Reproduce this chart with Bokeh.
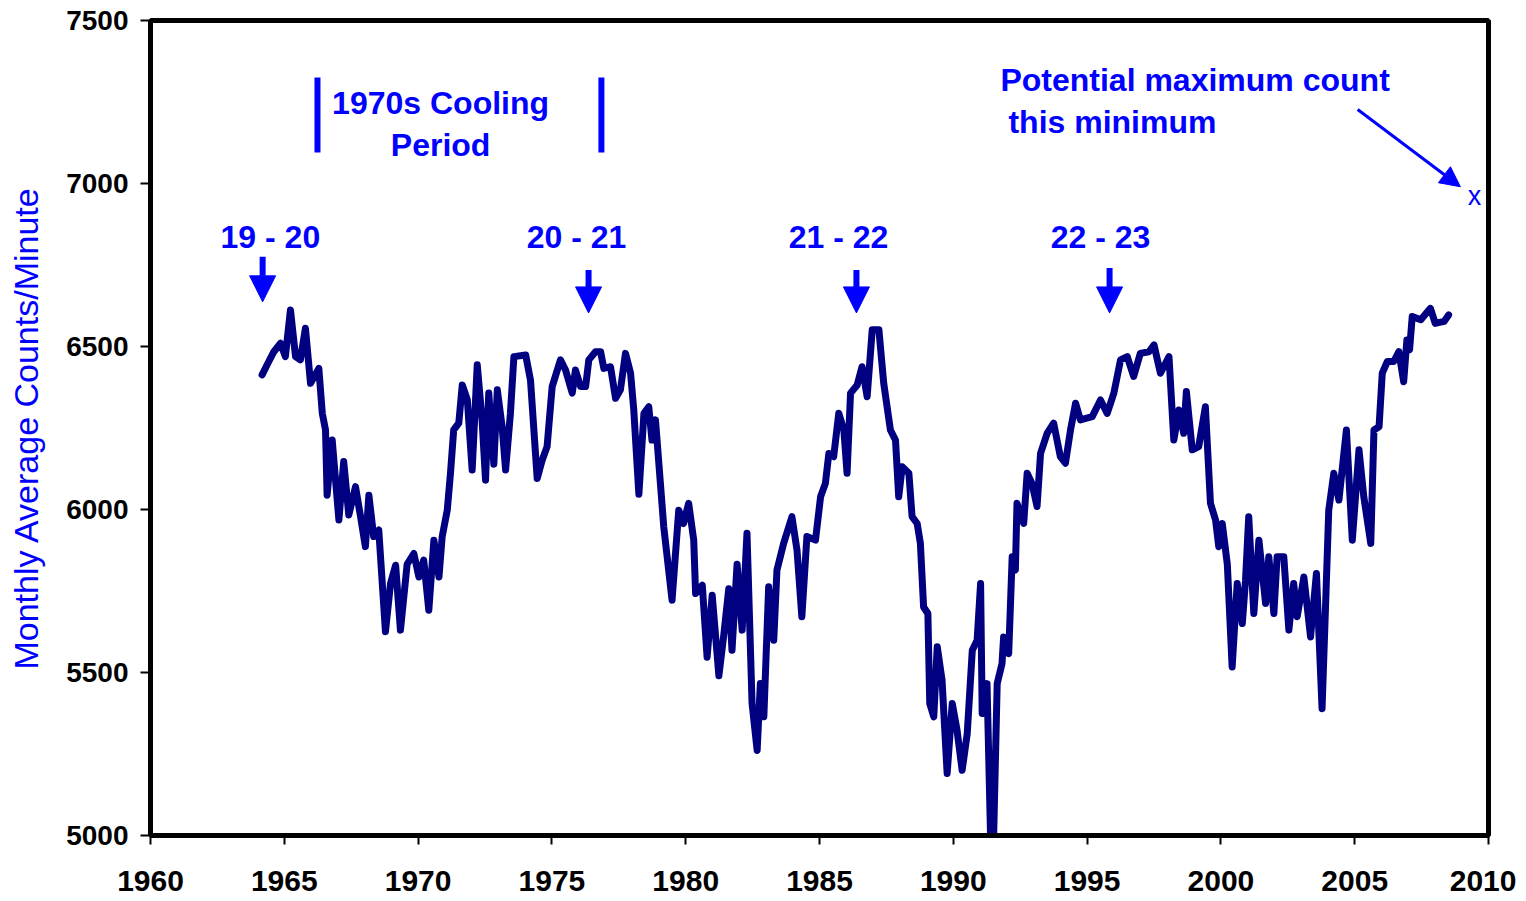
from bokeh.plotting import figure
from bokeh.models import Range1d, Arrow, NormalHead, Label, FixedTicker
from bokeh.core.properties import value
from bokeh.embed import file_html
from bokeh.resources import INLINE

# ---- data ----
years = [
    1964.17, 1964.42, 1964.61, 1964.86, 1965.04, 1965.23, 1965.42, 1965.60, 1965.79, 1965.98,
    1966.29, 1966.42, 1966.54, 1966.60, 1966.79, 1967.04, 1967.22, 1967.41, 1967.66, 1967.85,
    1968.03, 1968.16, 1968.34, 1968.53, 1968.78, 1968.97, 1969.16, 1969.34, 1969.59, 1969.84,
    1970.03, 1970.21, 1970.40, 1970.59, 1970.78, 1970.90, 1971.09, 1971.21, 1971.33, 1971.52,
    1971.65, 1971.84, 1972.02, 1972.21, 1972.39, 1972.52, 1972.64, 1972.83, 1972.96, 1973.14,
    1973.27, 1973.45, 1973.58, 1974.02, 1974.20, 1974.45, 1974.64, 1974.82, 1975.01, 1975.32,
    1975.51, 1975.76, 1975.88, 1976.07, 1976.26, 1976.38, 1976.63, 1976.82, 1976.94, 1977.19,
    1977.38, 1977.56, 1977.75, 1977.94, 1978.06, 1978.25, 1978.44, 1978.62, 1978.74, 1978.87,
    1979.18, 1979.49, 1979.74, 1979.92, 1980.11, 1980.30, 1980.37, 1980.62, 1980.80, 1980.99,
    1981.24, 1981.42, 1981.61, 1981.73, 1981.92, 1982.11, 1982.29, 1982.48, 1982.67, 1982.79,
    1982.92, 1983.10, 1983.29, 1983.41, 1983.66, 1983.97, 1984.16, 1984.34, 1984.53, 1984.85,
    1985.04, 1985.22, 1985.35, 1985.53, 1985.72, 1985.91, 1986.03, 1986.16, 1986.41, 1986.59,
    1986.78, 1986.97, 1987.22, 1987.40, 1987.65, 1987.84, 1987.96, 1988.09, 1988.34, 1988.46,
    1988.65, 1988.77, 1988.89, 1989.05, 1989.12, 1989.27, 1989.40, 1989.58, 1989.77, 1989.96,
    1990.14, 1990.33, 1990.52, 1990.71, 1990.89, 1991.02, 1991.08, 1991.26, 1991.39, 1991.51,
    1991.64, 1991.82, 1991.88, 1992.07, 1992.20, 1992.32, 1992.38, 1992.63, 1992.76, 1992.94,
    1993.13, 1993.26, 1993.51, 1993.75, 1994.00, 1994.19, 1994.38, 1994.57, 1994.75, 1995.19,
    1995.50, 1995.75, 1996.00, 1996.25, 1996.50, 1996.74, 1996.99, 1997.31, 1997.50, 1997.74,
    1998.06, 1998.24, 1998.43, 1998.61, 1998.71, 1998.93, 1999.17, 1999.42, 1999.61, 1999.80,
    1999.92, 2000.05, 2000.24, 2000.42, 2000.61, 2000.80, 2000.92, 2001.04, 2001.23, 2001.42,
    2001.67, 2001.79, 2001.98, 2002.10, 2002.35, 2002.54, 2002.72, 2002.85, 2003.10, 2003.35,
    2003.57, 2003.78, 2003.91, 2004.03, 2004.22, 2004.41, 2004.69, 2004.91, 2005.16, 2005.34,
    2005.60, 2005.72, 2005.91, 2006.03, 2006.22, 2006.46, 2006.65, 2006.83, 2006.95, 2007.05,
    2007.15, 2007.47, 2007.83, 2008.01, 2008.34, 2008.51,
]
counts = [
    6413, 6454, 6484, 6510, 6469, 6612, 6469, 6459, 6556, 6387,
    6433, 6295, 6244, 6044, 6213, 5968, 6147, 5983, 6070, 5978,
    5886, 6044, 5917, 5937, 5625, 5773, 5829, 5630, 5832, 5865,
    5793, 5845, 5691, 5906, 5793, 5917, 5998, 6111, 6244, 6265,
    6382, 6336, 6121, 6444, 6275, 6090, 6357, 6139, 6367, 6254,
    6121, 6295, 6469, 6474, 6397, 6095, 6152, 6193, 6377, 6459,
    6428, 6357, 6428, 6377, 6377, 6459, 6484, 6484, 6433, 6438,
    6341, 6367, 6479, 6418, 6305, 6047, 6295, 6315, 6213, 6275,
    5947, 5722, 5998, 5957, 6019, 5906, 5742, 5768, 5547, 5737,
    5490, 5613, 5757, 5568, 5832, 5630, 5927, 5405, 5261, 5466,
    5364, 5763, 5599, 5814, 5896, 5978, 5875, 5671, 5917, 5906,
    6039, 6080, 6172, 6162, 6295, 6244, 6111, 6357, 6382, 6438,
    6346, 6551, 6551, 6387, 6244, 6213, 6039, 6131, 6111, 5978,
    5957, 5896, 5701, 5681, 5405, 5364, 5579, 5476, 5190, 5405,
    5323, 5200, 5312, 5568, 5599, 5773, 5374, 5466, 5005, 5005,
    5466, 5527, 5609, 5558, 5855, 5814, 6019, 5957, 6111, 6080,
    6009, 6172, 6234, 6265, 6162, 6142, 6244, 6326, 6275, 6285,
    6336, 6295, 6357, 6459, 6469, 6408, 6479, 6484, 6505, 6418,
    6469, 6213, 6305, 6234, 6362, 6183, 6193, 6315, 6019, 5968,
    5886, 5957, 5832, 5517, 5773, 5650, 5783, 5978, 5681, 5906,
    5712, 5855, 5681, 5855, 5855, 5630, 5773, 5671, 5793, 5609,
    5804, 5389, 5701, 5998, 6111, 6029, 6244, 5906, 6183, 6039,
    5896, 6244, 6254, 6418, 6454, 6454, 6484, 6392, 6520, 6490,
    6592, 6582, 6617, 6571, 6577, 6597,
]

x_ticks = [1960, 1965, 1970, 1975, 1980, 1985, 1990, 1995, 2000, 2005, 2010]
y_ticks = [5000, 5500, 6000, 6500, 7000, 7500]

# solar cycle transition markers: label, label x, arrow x
cycle_labels = ["19 - 20", "20 - 21", "21 - 22", "22 - 23"]
cycle_label_x = [1964.48, 1975.92, 1985.71, 1995.50]
cycle_arrow_x = [1964.19, 1976.37, 1986.38, 1995.84]
cycle_arrow_top = [6775, 6735, 6735, 6741]
cycle_arrow_tip = [6637, 6603, 6603, 6603]

cooling_bar_x = [1966.24, 1976.85]

# potential maximum
pot_x = 2009.48
pot_y = 6963

BLUE = "#0000FF"
NAVY = "#000080"
FONT = "Liberation Sans"

p = figure(width=1516, height=900, output_backend="svg", toolbar_location=None,
           x_range=Range1d(1960, 2010), y_range=Range1d(5000, 7500),
           min_border_left=150, min_border_right=28, min_border_top=20, min_border_bottom=65)

p.xgrid.visible = False
p.ygrid.visible = False
p.outline_line_color = "black"
p.outline_line_width = 5
p.background_fill_color = "white"
p.border_fill_color = "white"

p.line(years, counts, line_color=NAVY, line_width=7, line_join="round", line_cap="round")

# axes
for ax in (p.xaxis[0], p.yaxis[0]):
    ax.axis_line_color = "black"
    ax.axis_line_width = 5
    ax.major_tick_line_color = "black"
    ax.major_tick_line_width = 2
    ax.major_tick_in = 0
    ax.minor_tick_line_color = None
    ax.major_label_text_font = FONT
    ax.major_label_text_font_style = "bold"
    ax.major_label_text_color = "black"

p.xaxis.ticker = FixedTicker(ticks=x_ticks)
p.yaxis.ticker = FixedTicker(ticks=y_ticks)
p.xaxis.major_tick_out = 9
p.yaxis.major_tick_out = 10
p.xaxis.major_label_text_font_size = "30px"
p.yaxis.major_label_text_font_size = "28px"
p.xaxis.major_label_standoff = 26
p.yaxis.major_label_standoff = 12

p.yaxis.axis_label = "Monthly Average Counts/Minute"
p.yaxis.axis_label_text_font = FONT
p.yaxis.axis_label_text_font_style = "normal"
p.yaxis.axis_label_text_font_size = "34px"
p.yaxis.axis_label_text_color = BLUE
p.yaxis.axis_label_standoff = 18

ANN = dict(text_font=FONT, text_font_style="bold", text_font_size="32px", text_color=BLUE,
           text_baseline="middle")

# cycle annotations
for lab, lx, ax_, ytop, ytip in zip(cycle_labels, cycle_label_x, cycle_arrow_x,
                                     cycle_arrow_top, cycle_arrow_tip):
    p.add_layout(Label(x=lx, y=6837, text=lab, text_align="center", **ANN))
    p.add_layout(Arrow(x_start=ax_, y_start=ytop, x_end=ax_, y_end=ytip,
                       line_color=BLUE, line_width=6,
                       end=NormalHead(size=26, fill_color=BLUE, line_color=BLUE, line_width=1)))

# 1970s cooling period
p.segment(x0=cooling_bar_x, y0=[7095] * 2, x1=cooling_bar_x, y1=[7325] * 2,
          line_color=BLUE, line_width=6)
p.add_layout(Label(x=1970.84, y=7248, text="1970s Cooling", text_align="center", **ANN))
p.add_layout(Label(x=1970.84, y=7119, text="Period", text_align="center", **ANN))

# potential maximum count
p.add_layout(Label(x=1991.76, y=7319, text="Potential maximum count", text_align="left", **ANN))
p.add_layout(Label(x=1992.06, y=7190, text="this minimum", text_align="left", **ANN))
p.add_layout(Arrow(x_start=2005.11, y_start=7227, x_end=2008.95, y_end=6990,
                   line_color=BLUE, line_width=3,
                   end=NormalHead(size=20, fill_color=BLUE, line_color=BLUE, line_width=1)))
p.text(x=[pot_x], y=[pot_y], text=["x"], text_align="center", text_baseline="middle",
       text_font=value(FONT), text_font_size="27px", text_color=BLUE)

open("out.html", "w").write(file_html(p, INLINE))
